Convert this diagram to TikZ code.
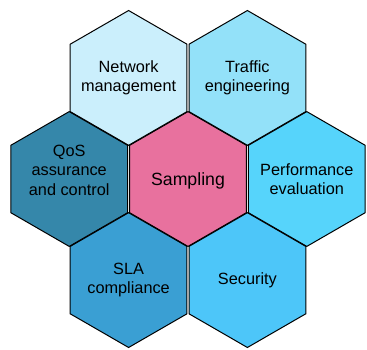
\documentclass[tikz,border=0pt]{standalone}
\usepackage{fontspec}
\setmainfont{Liberation Sans}
\usetikzlibrary{shapes.geometric}

\definecolor{netcol}{HTML}{CBEFFC}
\definecolor{trafcol}{HTML}{93E1F9}
\definecolor{perfcol}{HTML}{56D4FB}
\definecolor{seccol}{HTML}{4DC6F9}
\definecolor{slacol}{HTML}{3A9FD3}
\definecolor{qoscol}{HTML}{3587AA}
\definecolor{sampcol}{HTML}{E8719E}

\tikzset{
	cell/.style={draw=black,line width=1pt,regular polygon,regular polygon sides=6,
		shape border rotate=30,minimum size=134.8pt,inner sep=0pt},
	celltext/.style={align=center,font=\fontsize{16.3}{19.5}\selectfont}
}

\begin{document}
\begin{tikzpicture}[x=1pt,y=-1pt]
		\useasboundingbox (0,0) rectangle (367,349);

		\node[cell,fill=sampcol]	(samp)	at (188,179)		{};
		\node[cell,fill=netcol]		(net)	at (128.6,77.9)		{};
		\node[cell,fill=trafcol]	(traf)	at (247.4,77.9)		{};
		\node[cell,fill=qoscol]		(qos)	at (69.2,179)		{};
		\node[cell,fill=perfcol]	(perf)	at (306.8,179)		{};
		\node[cell,fill=slacol]		(sla)	at (128.6,280.1)	{};
		\node[cell,fill=seccol]		(sec)	at (247.4,280.1)	{};

		\node[celltext,font=\fontsize{17.7}{21}\selectfont,yshift=-2pt]	(samptext)	at (samp)	{Sampling};
		\node[celltext]						(nettext)	at (net)	{Network\\management};
		\node[celltext]						(traftext)	at (traf)	{Traffic\\engineering};
		\node[celltext,yshift=9pt]			(qostext)	at (qos)	{QoS\\assurance\\and control};
		\node[celltext]						(perftext)	at (perf)	{Performance\\evaluation};
		\node[celltext]						(slatext)	at (sla)	{SLA\\compliance};
		\node[celltext]						(sectext)	at (sec)	{Security};
	\end{tikzpicture}
\end{document}
